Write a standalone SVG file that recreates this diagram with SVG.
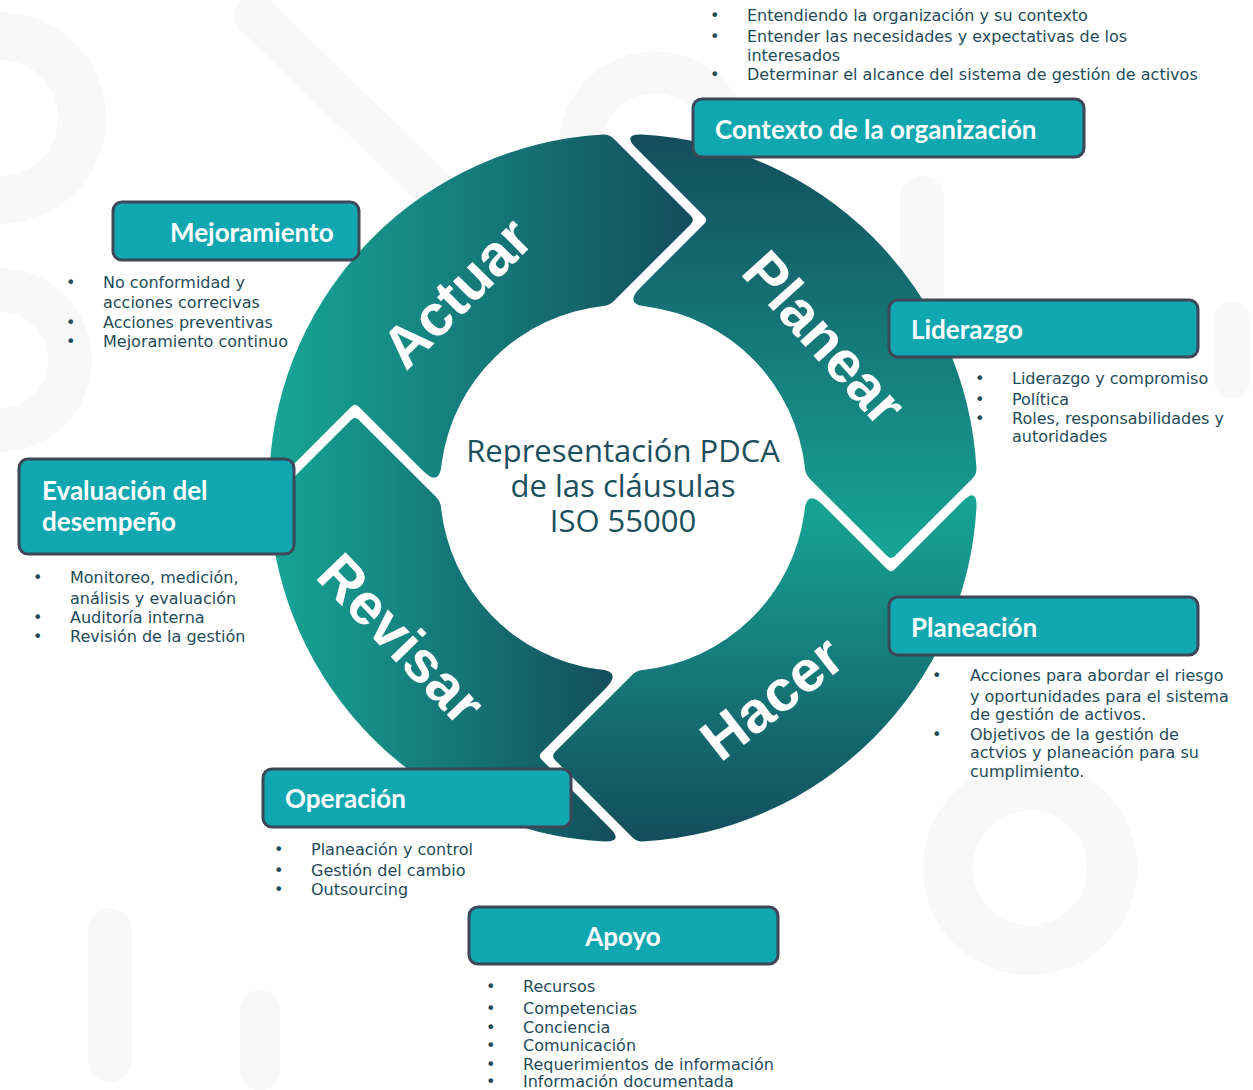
<svg xmlns="http://www.w3.org/2000/svg" width="1253" height="1090" viewBox="0 0 1253 1090">
  <style>
    .bg { fill: none; stroke: #f8f8f9; stroke-linecap: round; }
    .seg-label { font-family: "Liberation Sans", Arial, sans-serif; font-weight: 700; font-size: 58px; fill: #ffffff; text-anchor: middle; }
    .center { font-family: "Open Sans", "Noto Sans", sans-serif; font-size: 31px; fill: #1c4f5d; text-anchor: middle; }
    .box { fill: #10a7b1; stroke: #3d4757; stroke-width: 3; }
    .box-title { font-family: Lato, "Open Sans", sans-serif; font-weight: 700; font-size: 26px; fill: #ffffff; }
    .li { font-family: "DejaVu Sans", "Open Sans", sans-serif; font-size: 16px; fill: #1f4b5a; }
  </style>
  <defs>
    <linearGradient id="gActuar" x1="0" y1="0" x2="1" y2="0">
      <stop offset="0" stop-color="#17a696"/>
      <stop offset="1" stop-color="#134d5d"/>
    </linearGradient>
    <linearGradient id="gPlanear" x1="0" y1="0" x2="0" y2="1">
      <stop offset="0" stop-color="#134d5d"/>
      <stop offset="1" stop-color="#17a696"/>
    </linearGradient>
    <linearGradient id="gHacer" x1="0" y1="0" x2="0" y2="1">
      <stop offset="0" stop-color="#17a696"/>
      <stop offset="1" stop-color="#134d5d"/>
    </linearGradient>
    <linearGradient id="gRevisar" x1="0" y1="0" x2="1" y2="0">
      <stop offset="0" stop-color="#17a696"/>
      <stop offset="1" stop-color="#134d5d"/>
    </linearGradient>
  </defs>

  <rect x="0" y="0" width="1253" height="1090" fill="#ffffff"/>

  <g id="background">
    <circle class="bg" cx="0" cy="118" r="82" stroke-width="48"/>
    <line class="bg" x1="255" y1="15" x2="440" y2="195" stroke-width="42"/>
    <path class="bg" d="M 580 150 A 75 75 0 0 1 720 110" stroke-width="42"/>
    <line class="bg" x1="922" y1="198" x2="922" y2="290" stroke-width="44"/>
    <circle class="bg" cx="1030" cy="868" r="82" stroke-width="50"/>
    <circle class="bg" cx="0" cy="360" r="70" stroke-width="44"/>
    <line class="bg" x1="110" y1="930" x2="110" y2="1060" stroke-width="44"/>
    <line class="bg" x1="260" y1="1010" x2="260" y2="1070" stroke-width="40"/>
    <line class="bg" x1="1232" y1="320" x2="1232" y2="380" stroke-width="36"/>
  </g>

  <g id="cycle">
    <g id="seg-actuar">
      <path fill="url(#gActuar)" d="M 269.5 469.2 A 354 354 0 0 1 603.3 134.55 Q 609.3 134.3 613.5 138.5 L 690.8 215.8 Q 695 220 690.8 224.2 L 613.7 301.3 Q 609.5 305.5 603.5 306 A 183 183 0 0 0 441.7 463.1 Q 440 488 422.3 470.3 L 358.5 406.5 Q 355 403 351.5 406.5 L 283.1 474.9 Q 269 489 269.5 469.2 Z"/>
      <text class="seg-label" transform="translate(456 292) rotate(-45)" y="21">Actuar</text>
    </g>
    <g id="seg-planear">
      <path fill="url(#gPlanear)" d="M 641.8 134.5 A 354 354 0 0 1 976.45 468.3 Q 976.7 474.3 972.5 478.5 L 895.2 555.8 Q 891 560 886.8 555.8 L 809.7 478.7 Q 805.5 474.5 805 468.5 A 183 183 0 0 0 647.9 306.7 Q 623 305 640.7 287.3 L 704.5 223.5 Q 708 220 704.5 216.5 L 636.1 148.1 Q 622 134 641.8 134.5 Z"/>
      <text class="seg-label" transform="translate(825 337) rotate(48)" y="21">Planear</text>
    </g>
    <g id="seg-hacer">
      <path fill="url(#gHacer)" d="M 976.5 506.8 A 354 354 0 0 1 642.7 841.45 Q 636.7 841.7 632.5 837.5 L 555.2 760.2 Q 551 756 555.2 751.8 L 632.3 674.7 Q 636.5 670.5 642.5 670 A 183 183 0 0 0 804.3 512.9 Q 806 488 823.7 505.7 L 887.5 569.5 Q 891 573 894.5 569.5 L 962.9 501.1 Q 977 487 976.5 506.8 Z"/>
      <text class="seg-label" transform="translate(771 697) rotate(-38)" y="21">Hacer</text>
    </g>
    <g id="seg-revisar">
      <path fill="url(#gRevisar)" d="M 604.2 841.5 A 354 354 0 0 1 269.55 507.7 Q 269.3 501.7 273.5 497.5 L 350.8 420.2 Q 355 416 359.2 420.2 L 436.3 497.3 Q 440.5 501.5 441 507.5 A 183 183 0 0 0 598.1 669.3 Q 623 671 605.3 688.7 L 541.5 752.5 Q 538 756 541.5 759.5 L 609.9 827.9 Q 624 842 604.2 841.5 Z"/>
      <text class="seg-label" transform="translate(402 638) rotate(46)" y="21">Revisar</text>
    </g>
  </g>

  <g id="center-title">
    <text class="center" x="623" y="462">Representación PDCA</text>
    <text class="center" x="623" y="497">de las cláusulas</text>
    <text class="center" x="623" y="532">ISO 55000</text>
  </g>

  <g id="node-contexto">
    <rect class="box" x="693" y="99" width="391" height="58" rx="9"/>
    <text class="box-title" x="715" y="139">Contexto de la organización</text>
    <text class="li" x="710" y="21">•</text><text class="li" x="747" y="21">Entendiendo la organización y su contexto</text>
    <text class="li" x="710" y="42">•</text><text class="li" x="747" y="42">Entender las necesidades y expectativas de los</text>
    <text class="li" x="747" y="61">interesados</text>
    <text class="li" x="710" y="80">•</text><text class="li" x="747" y="80">Determinar el alcance del sistema de gestión de activos</text>
  </g>

  <g id="node-mejoramiento">
    <rect class="box" x="113" y="202" width="246" height="58" rx="9"/>
    <text class="box-title" x="170" y="242">Mejoramiento</text>
    <text class="li" x="66" y="288">•</text><text class="li" x="103" y="288">No conformidad y</text>
    <text class="li" x="103" y="308">acciones correcivas</text>
    <text class="li" x="66" y="328">•</text><text class="li" x="103" y="328">Acciones preventivas</text>
    <text class="li" x="66" y="347">•</text><text class="li" x="103" y="347">Mejoramiento continuo</text>
  </g>

  <g id="node-liderazgo">
    <rect class="box" x="889" y="300" width="309" height="57" rx="9"/>
    <text class="box-title" x="911" y="339">Liderazgo</text>
    <text class="li" x="975" y="384">•</text><text class="li" x="1012" y="384">Liderazgo y compromiso</text>
    <text class="li" x="975" y="405">•</text><text class="li" x="1012" y="405">Política</text>
    <text class="li" x="975" y="424">•</text><text class="li" x="1012" y="424">Roles, responsabilidades y</text>
    <text class="li" x="1012" y="442">autoridades</text>
  </g>

  <g id="node-evaluacion">
    <rect class="box" x="19" y="459" width="275" height="95" rx="9"/>
    <text class="box-title" x="42" y="500">Evaluación del</text>
    <text class="box-title" x="42" y="531">desempeño</text>
    <text class="li" x="33" y="583">•</text><text class="li" x="70" y="583">Monitoreo, medición,</text>
    <text class="li" x="70" y="604">análisis y evaluación</text>
    <text class="li" x="33" y="623">•</text><text class="li" x="70" y="623">Auditoría interna</text>
    <text class="li" x="33" y="642">•</text><text class="li" x="70" y="642">Revisión de la gestión</text>
  </g>

  <g id="node-planeacion">
    <rect class="box" x="889" y="597" width="309" height="58" rx="9"/>
    <text class="box-title" x="911" y="637">Planeación</text>
    <text class="li" x="932" y="681">•</text><text class="li" x="970" y="681">Acciones para abordar el riesgo</text>
    <text class="li" x="970" y="702">y oportunidades para el sistema</text>
    <text class="li" x="970" y="720">de gestión de activos.</text>
    <text class="li" x="932" y="740">•</text><text class="li" x="970" y="740">Objetivos de la gestión de</text>
    <text class="li" x="970" y="758">actvios y planeación para su</text>
    <text class="li" x="970" y="777">cumplimiento.</text>
  </g>

  <g id="node-operacion">
    <rect class="box" x="263" y="769" width="308" height="58" rx="9"/>
    <text class="box-title" x="285" y="808">Operación</text>
    <text class="li" x="274" y="855">•</text><text class="li" x="311" y="855">Planeación y control</text>
    <text class="li" x="274" y="876">•</text><text class="li" x="311" y="876">Gestión del cambio</text>
    <text class="li" x="274" y="895">•</text><text class="li" x="311" y="895">Outsourcing</text>
  </g>

  <g id="node-apoyo">
    <rect class="box" x="469" y="907" width="309" height="57" rx="9"/>
    <text class="box-title" x="623" y="946" text-anchor="middle">Apoyo</text>
    <text class="li" x="486" y="992">•</text><text class="li" x="523" y="992">Recursos</text>
    <text class="li" x="486" y="1014">•</text><text class="li" x="523" y="1014">Competencias</text>
    <text class="li" x="486" y="1033">•</text><text class="li" x="523" y="1033">Conciencia</text>
    <text class="li" x="486" y="1051">•</text><text class="li" x="523" y="1051">Comunicación</text>
    <text class="li" x="486" y="1070">•</text><text class="li" x="523" y="1070">Requerimientos de información</text>
    <text class="li" x="486" y="1087">•</text><text class="li" x="523" y="1087">Información documentada</text>
  </g>
</svg>
